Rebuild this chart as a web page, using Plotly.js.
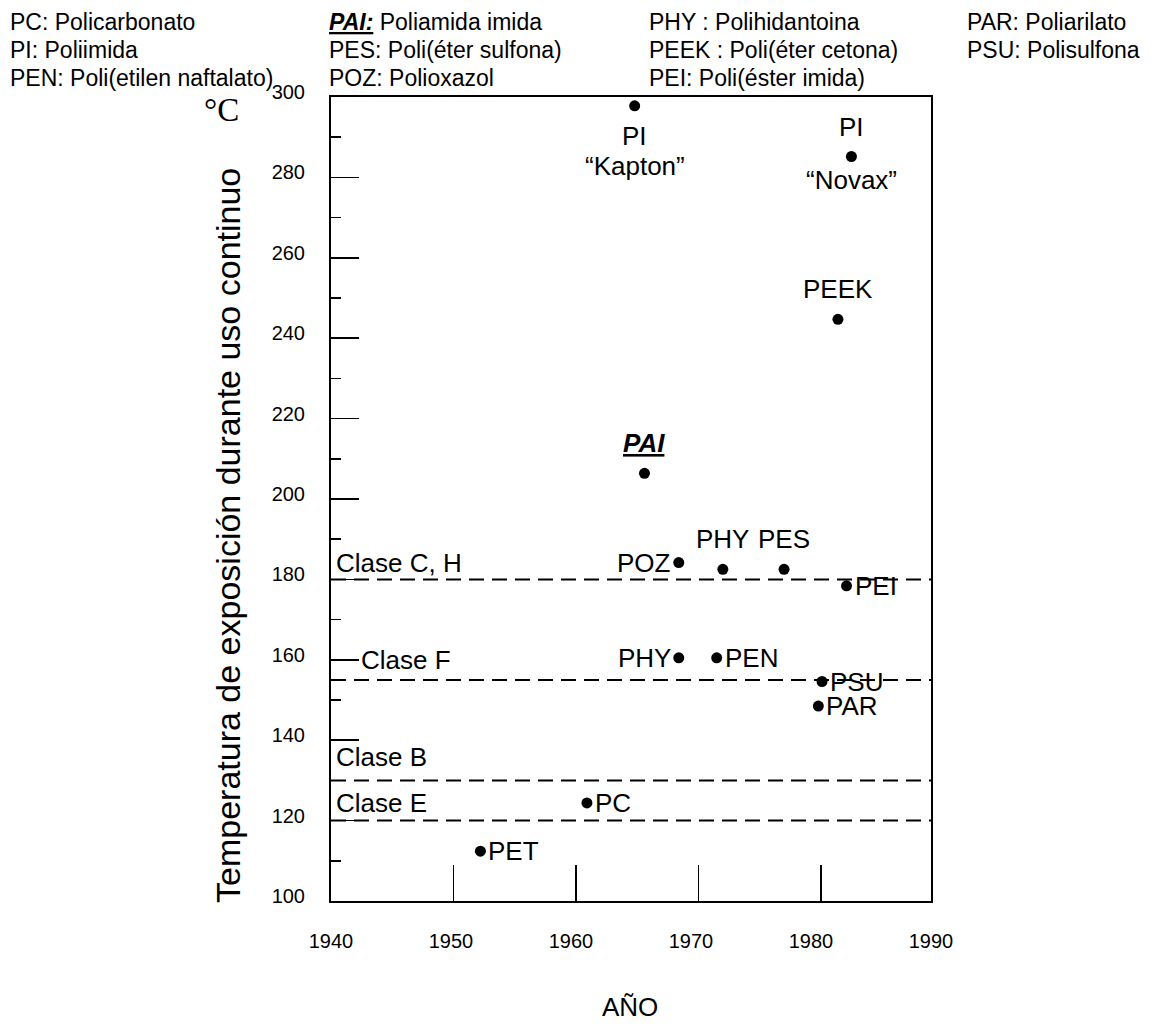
<!DOCTYPE html>
<html>
<head>
<meta charset="utf-8">
<script src="https://cdn.plot.ly/plotly-3.0.1.min.js"></script>
<style>html,body{margin:0;padding:0;background:#fff;}#chart{width:1154px;height:1030px;}</style>
</head>
<body>
<div id="chart"></div>
<script>
// ---- data ----
const pointNames = ['PET','PC','PI','PAI','POZ','PHY','PHY','PEN','PES','PAR','PSU','PEEK','PEI','PI'];
const pointNotes = ['','','“Kapton”','','','','','','','','','','','“Novax”'];
const years = [1952.2,1960.9,1964.8,1965.6,1968.4,1968.4,1972.0,1971.5,1977.0,1979.8,1980.1,1981.4,1982.1,1982.5];
const temps = [112.4,124.4,297.8,206.4,184.2,160.5,182.5,160.5,182.5,148.5,154.6,244.7,178.4,285.2];

const classNames = ['Clase E','Clase B','Clase F','Clase C, H'];
const classTemps = [120,130,155,180];

const xTickVals = [1950,1960,1970,1980];
const xLabelVals = [1940,1950,1960,1970,1980,1990];
const xLabelText = ['1940','1950','1960','1970','1980','1990'];

const legendAbbr = [
  ['PC:','PI:','PEN:'],
  ['<b><i><u>PAI:</u></i></b>','PES:','POZ:'],
  ['PHY :','PEEK :','PEI:'],
  ['PAR:','PSU:']
];
const legendNames = [
  ['Policarbonato','Poliimida','Poli(etilen naftalato)'],
  ['Poliamida imida','Poli(éter sulfona)','Polioxazol'],
  ['Polihidantoina','Poli(éter cetona)','Poli(éster imida)'],
  ['Poliarilato','Polisulfona']
];

// ---- styles ----
const FONT = '"Liberation Sans", Arial, sans-serif';
const labelSide = ['right','right','below','above','left','left','above','right','above','right','right','above','right','above'];
const classXShift = [3,3,28,3];
const classYShift = [18,23,20,16];
const legendColX = [-0.538,-0.0067,0.5267,1.0567];
const legendRowY = [22,50,78];

const annotations = [];
// point labels
pointNames.forEach((name,i)=>{
  const side = labelSide[i];
  const base = {x: years[i], y: temps[i], xref:'x', yref:'y', showarrow:false,
    font:{family:FONT,size:26,color:'#000'}};
  let txt = name;
  if (name === 'PAI') txt = '<b><i><u>PAI</u></i></b>';
  if (side === 'right') annotations.push(Object.assign({}, base, {text:txt, xanchor:'left', yanchor:'middle', xshift:6}));
  else if (side === 'left') annotations.push(Object.assign({}, base, {text:txt, xanchor:'right', yanchor:'middle', xshift:-6}));
  else if (side === 'above') annotations.push(Object.assign({}, base, {text:txt, xanchor:'center', yanchor:'middle', yshift:30}));
  else if (side === 'below') annotations.push(Object.assign({}, base, {text:txt, xanchor:'center', yanchor:'middle', yshift:-30}));
  if (pointNotes[i]) {
    const ys = side === 'below' ? -60 : -23;
    annotations.push(Object.assign({}, base, {text:pointNotes[i], xanchor:'center', yanchor:'middle', yshift:ys}));
  }
});
// class labels
classNames.forEach((c,i)=>{
  annotations.push({text:c, x:0, xref:'paper', y:classTemps[i], yref:'y', xanchor:'left', yanchor:'middle',
    xshift:classXShift[i], yshift:classYShift[i], showarrow:false, font:{family:FONT,size:26,color:'#000'}});
});
// legend at the top
legendAbbr.forEach((col,ci)=>{
  col.forEach((ab,ri)=>{
    annotations.push({text: ab + ' ' + legendNames[ci][ri], x:legendColX[ci], xref:'paper',
      y:1, yref:'paper', yshift: 97 - legendRowY[ri], xanchor:'left', yanchor:'middle', showarrow:false,
      font:{family:FONT,size:23,color:'#000'}});
  });
});
// degree symbol
annotations.push({text:'°C', x:-0.182, xref:'paper', y:0.984, yref:'paper', xanchor:'center', yanchor:'middle',
  showarrow:false, font:{family:'"Liberation Serif", "Times New Roman", serif', size:33, color:'#000'}});
// y title
annotations.push({text:'Temperatura de exposición durante uso continuo', x:-0.172, xref:'paper', y:0.455, yref:'paper',
  xanchor:'center', yanchor:'middle', textangle:-90, showarrow:false, font:{family:FONT,size:34,color:'#000'}});
// x title
annotations.push({text:'AÑO', x:0.4983, xref:'paper', y:-0.1318, yref:'paper', xanchor:'center', yanchor:'middle',
  showarrow:false, font:{family:FONT,size:26,color:'#000'}});

const shapes = classTemps.map(t=>({type:'line', xref:'paper', x0:0, x1:1, yref:'y', y0:t, y1:t,
  line:{color:'#000', width:2, dash:'15px,8px'}, layer:'above'}));

const traces = [
  {type:'scatter', mode:'markers', x:years, y:temps, marker:{size:11, color:'#000'},
   hoverinfo:'skip', showlegend:false, cliponaxis:false},
  {type:'scatter', mode:'markers', x:[], y:[], xaxis:'x2', showlegend:false, hoverinfo:'skip'}
];

const layout = {
  width:1154, height:1030,
  margin:{l:331, r:223, t:97, b:129, pad:0},
  paper_bgcolor:'#fff', plot_bgcolor:'#fff',
  showlegend:false,
  font:{family:FONT, color:'#000'},
  xaxis:{range:[1940,1989], tickmode:'array', tickvals:xTickVals, ticks:'inside', ticklen:36, tickwidth:1.5,
    tickcolor:'#000', showticklabels:false, showline:true, linecolor:'#000', linewidth:2, mirror:true,
    showgrid:false, zeroline:false, fixedrange:true},
  xaxis2:{overlaying:'x', anchor:'y', side:'bottom', range:[1940,1990], tickmode:'array', tickvals:xLabelVals,
    ticktext:xLabelText, ticks:'', showline:false, showgrid:false, zeroline:false,
    tickfont:{family:FONT,size:20,color:'#000'}, ticklabelstandoff:26},
  yaxis:{range:[100,300], tickmode:'linear', tick0:100, dtick:20, ticks:'inside', ticklen:28, tickwidth:1.5,
    tickcolor:'#000', tickfont:{family:FONT,size:20,color:'#000'}, ticklabelstandoff:20, ticklabelshift:-5,
    minor:{dtick:10, ticks:'inside', ticklen:10, tickwidth:1.5, tickcolor:'#000', showgrid:false},
    showline:true, linecolor:'#000', linewidth:2, mirror:true, showgrid:false, zeroline:false, fixedrange:true},
  annotations: annotations,
  shapes: shapes
};

Plotly.newPlot('chart', traces, layout, {staticPlot:true, displayModeBar:false});
</script>
</body>
</html>
